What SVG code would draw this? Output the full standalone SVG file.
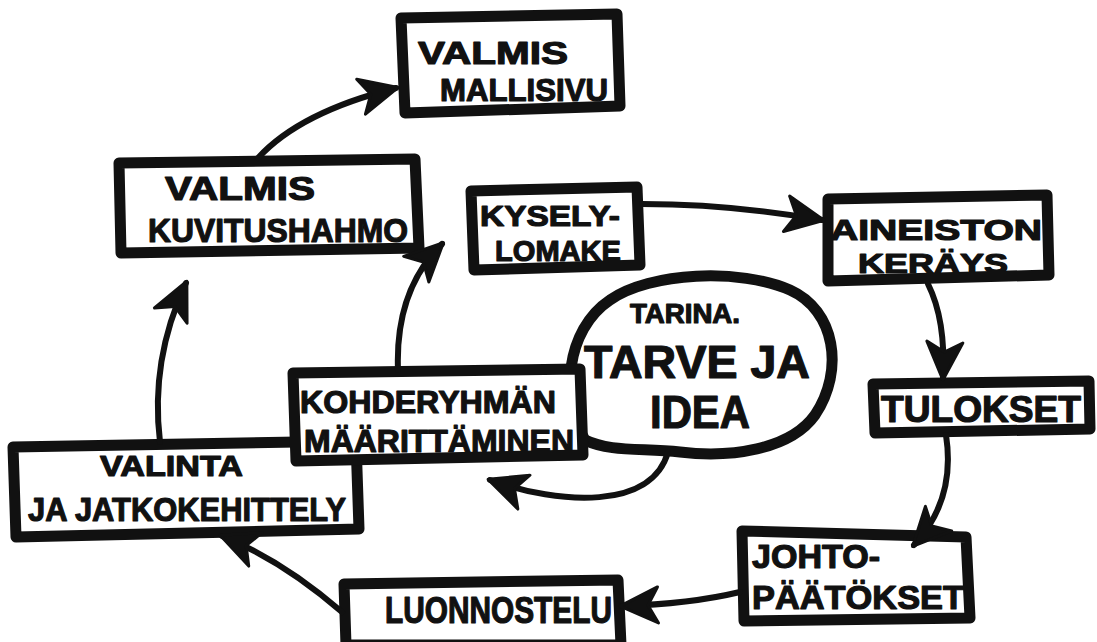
<svg xmlns="http://www.w3.org/2000/svg" width="1097" height="642" viewBox="0 0 1097 642">
<defs>
<style>
.box{fill:#fff;stroke:#111;stroke-width:11;stroke-linejoin:round}
.t{font-family:"Liberation Sans",Arial,sans-serif;font-weight:bold;fill:#111;stroke:#111;stroke-width:1.2;stroke-linejoin:round}
.c{fill:none;stroke:#111;stroke-width:6;stroke-linecap:round}
</style>
<marker id="ah" markerUnits="userSpaceOnUse" viewBox="-40 -22 44 44" markerWidth="44" markerHeight="44" refX="0" refY="0" orient="auto">
<path d="M2,0 L-36,-18 L-26,0 L-36,18 Z" fill="#111" stroke="#111" stroke-width="3" stroke-linejoin="round"/>
</marker>
</defs>
<rect width="1097" height="642" fill="#fff"/>

<g id="bubble">
<path class="box" d="M585,440 C560,400 565,330 610,300 C650,272 740,268 790,290 C835,310 845,370 815,415 C790,450 730,458 680,452 C640,448 610,452 585,440 Z"/>
<text class="t" x="630" y="323" font-size="28" textLength="110" lengthAdjust="spacingAndGlyphs">TARINA.</text>
<text class="t" x="584" y="378" font-size="46" textLength="226" lengthAdjust="spacingAndGlyphs">TARVE JA</text>
<text class="t" x="650" y="428" font-size="46" textLength="100" lengthAdjust="spacingAndGlyphs">IDEA</text>
</g>

<g id="mallisivu">
<polygon class="box" points="401,18 617,14 620,106 405,113"/>
<text class="t" x="418" y="64" font-size="32" textLength="150" lengthAdjust="spacingAndGlyphs">VALMIS</text>
<text class="t" x="440" y="101" font-size="32" textLength="168" lengthAdjust="spacingAndGlyphs">MALLISIVU</text>
</g>

<g id="kuvitus">
<polygon class="box" points="119,163 415,159 419,248 121,253"/>
<text class="t" x="165" y="200" font-size="33" textLength="150" lengthAdjust="spacingAndGlyphs">VALMIS</text>
<text class="t" x="148" y="242" font-size="34" textLength="260" lengthAdjust="spacingAndGlyphs">KUVITUSHAHMO</text>
</g>

<g id="kysely">
<polygon class="box" points="471,191 637,187 640,265 474,270"/>
<text class="t" x="480" y="226" font-size="30" textLength="140" lengthAdjust="spacingAndGlyphs">KYSELY-</text>
<text class="t" x="495" y="261" font-size="30" textLength="126" lengthAdjust="spacingAndGlyphs">LOMAKE</text>
</g>

<g id="aineisto">
<polygon class="box" points="828,199 1047,195 1049,275 828,281"/>
<text class="t" x="830" y="240" font-size="29" textLength="212" lengthAdjust="spacingAndGlyphs">AINEISTON</text>
<text class="t" x="858" y="273" font-size="28" textLength="150" lengthAdjust="spacingAndGlyphs">KERÄYS</text>
</g>

<g id="tulokset">
<polygon class="box" points="873,384 1089,381 1090,429 875,433"/>
<text class="t" x="881" y="422" font-size="36" textLength="200" lengthAdjust="spacingAndGlyphs">TULOKSET</text>
</g>

<g id="johto">
<polygon class="box" points="742,531 966,537 970,618 744,621"/>
<text class="t" x="752" y="568" font-size="33" textLength="128" lengthAdjust="spacingAndGlyphs">JOHTO-</text>
<text class="t" x="752" y="609" font-size="34" textLength="212" lengthAdjust="spacingAndGlyphs">PÄÄTÖKSET</text>
</g>

<g id="luonnostelu">
<polygon class="box" points="344,584 618,580 621,645 346,645"/>
<text class="t" x="385" y="623" font-size="36" textLength="227" lengthAdjust="spacingAndGlyphs">LUONNOSTELU</text>
</g>

<g id="valinta">
<polygon class="box" points="13,447 356,441 359,529 16,537"/>
<text class="t" x="100" y="476" font-size="30" textLength="143" lengthAdjust="spacingAndGlyphs">VALINTA</text>
<text class="t" x="28" y="521" font-size="34" textLength="318" lengthAdjust="spacingAndGlyphs">JA JATKOKEHITTELY</text>
</g>

<g id="kohderyhma">
<polygon class="box" points="293,373 580,369 583,455 296,461"/>
<text class="t" x="300" y="413" font-size="32" textLength="256" lengthAdjust="spacingAndGlyphs">KOHDERYHMÄN</text>
<text class="t" x="304" y="452" font-size="32" textLength="270" lengthAdjust="spacingAndGlyphs">MÄÄRITTÄMINEN</text>
</g>

<g id="connectors">
<path class="c" marker-end="url(#ah)" d="M258,158 Q300,112 396,88"/>
<path class="c" marker-end="url(#ah)" d="M642,204 Q730,204 822,220"/>
<path class="c" marker-end="url(#ah)" d="M928,284 Q946,320 943,378"/>
<path class="c" marker-end="url(#ah)" d="M946,435 Q956,500 914,545"/>
<path class="c" marker-end="url(#ah)" d="M740,592 Q690,604 622,606"/>
<path class="c" marker-end="url(#ah)" d="M342,612 Q282,560 222,536"/>
<path class="c" marker-end="url(#ah)" d="M160,442 Q150,360 186,283"/>
<path class="c" marker-end="url(#ah)" d="M398,370 Q395,290 442,244"/>
<path class="c" marker-end="url(#ah)" d="M668,452 C652,510 560,505 490,480"/>
</g>
</svg>
